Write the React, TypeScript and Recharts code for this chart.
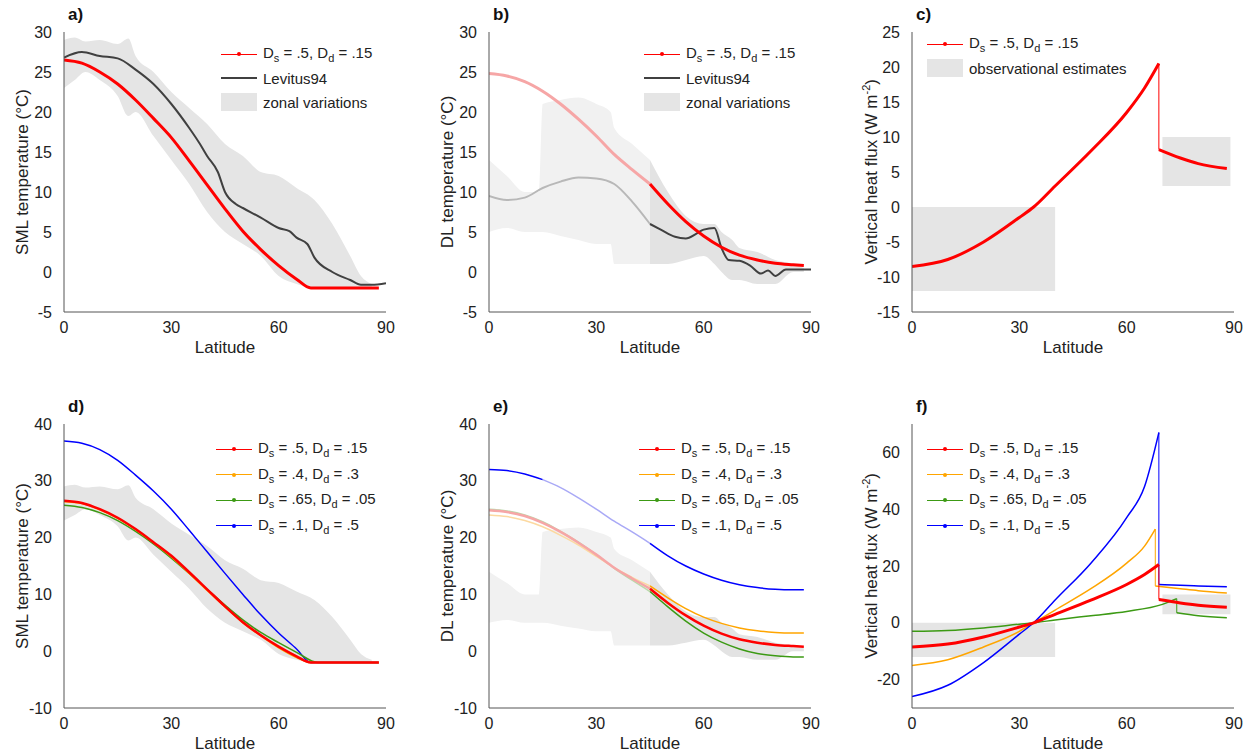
import React from "react";
import { ComposedChart, Line, Area, XAxis, YAxis, ReferenceArea } from "recharts";

const FONT = "'Liberation Sans', Arial, Helvetica, sans-serif";
const latTicks = [0, 30, 60, 90];

type P = { x: number; y: number };
const mk = (xs: number[], ys: number[]): P[] => xs.map((x, i) => ({ x, y: ys[i] }));
const band = (xs: number[], lo: number[], hi: number[]) => xs.map((x, i) => ({ x, r: [lo[i], hi[i]] }));

// ---- SML (a, d) ----
const smlLat = [0, 5, 10, 15, 20, 25, 30, 35, 40, 45, 50, 55, 60, 65, 69, 75, 80, 85, 88];
const smlRed = [26.5, 26.1, 25, 23.5, 21.5, 19.2, 16.8, 13.9, 10.9, 7.9, 5.1, 2.8, 0.8, -0.9, -2, -2, -2, -2, -2];
const smlYellow = [26.3, 26, 24.9, 23.4, 21.4, 19.1, 16.6, 13.7, 10.7, 7.8, 5, 2.7, 0.6, -1.1, -2, -2, -2, -2, -2];
const smlGreenLat = [0, 5, 10, 15, 20, 25, 30, 35, 40, 45, 50, 55, 60, 65, 71, 75, 80, 85, 88];
const smlGreen = [25.7, 25.3, 24.4, 23, 21.1, 18.9, 16.4, 13.7, 10.9, 8.1, 5.5, 3.3, 1.5, -0.2, -2, -2, -2, -2, -2];
const smlBlue = [37, 36.6, 35.5, 33.6, 31, 28.2, 25, 21.3, 17.5, 13.7, 10, 6.4, 3.2, 0.4, -2, -2, -2, -2, -2];
const levLat = [0, 5, 10, 15, 20, 25, 30, 35, 38, 40, 43, 45, 48, 50, 55, 60, 63, 65, 68, 70, 75, 80, 83, 86, 90];
const levSml = [26.8, 27.5, 27, 26.7, 25.3, 23.5, 21, 18, 16, 14.5, 12.5, 10, 8.5, 8, 6.8, 5.5, 5.1, 4.3, 3.5, 1.8, 0, -1, -1.6, -1.6, -1.4];
const smlBandLat = [0, 3, 6, 10, 15, 18, 20, 25, 30, 35, 40, 45, 50, 55, 60, 65, 70, 75, 80, 83, 86];
const smlBandLo = [23, 24, 25, 24, 22, 19.5, 20, 17, 14, 11, 7.5, 5, 3.5, 2, -0.5, -1.5, -2, -2, -2, -2, -2];
const smlBandHi = [29, 29.3, 28.8, 29, 28.5, 29.2, 27, 25, 22.5, 20.5, 18.5, 16, 14.5, 12.5, 12, 10.5, 9, 6, 2, -0.5, -1.5];

// ---- DL (b, e) ----
const dlLat1 = [0, 5, 10, 15, 20, 25, 30, 35, 40, 45];
const dlLat2 = [45, 50, 55, 60, 65, 70, 75, 80, 85, 88];
const dlRed1 = [24.8, 24.5, 23.8, 22.6, 21, 19.1, 17, 14.7, 12.8, 11];
const dlRed2 = [11, 8.5, 6.3, 4.5, 3.1, 2.1, 1.5, 1.1, 0.9, 0.8];
const dlYel1 = [24, 23.7, 23, 21.9, 20.4, 18.7, 16.7, 14.7, 13, 11.5];
const dlYel2 = [11.5, 9.4, 7.5, 6, 4.9, 4.1, 3.6, 3.3, 3.2, 3.2];
const dlGrn1 = [25, 24.7, 24, 22.8, 21.1, 19.2, 17, 14.6, 12.5, 10.5];
const dlGrn2 = [10.5, 7.8, 5.3, 3.2, 1.6, 0.4, -0.4, -0.8, -1, -1];
const dlBlueLatA = [0, 5, 10, 15];
const dlBlueA = [32, 31.8, 31.2, 30.2];
const dlBlueLatB = [15, 20, 25, 30, 35, 40, 45];
const dlBlueB = [30.2, 28.8, 27, 25, 22.9, 21, 19];
const dlBlue2 = [19, 16.8, 15, 13.6, 12.5, 11.7, 11.2, 10.9, 10.8, 10.8];
const levDlLat1 = [0, 5, 10, 15, 20, 25, 30, 35, 40, 45];
const levDl1 = [9.5, 9, 9.3, 10.5, 11.3, 11.8, 11.7, 11, 8.8, 6];
const levDlLat2 = [45, 48, 52, 55, 58, 60, 63, 65, 67, 70, 73, 76, 78, 80, 83, 86, 90];
const levDl2 = [6, 5.3, 4.4, 4.2, 4.8, 5.3, 5.5, 3, 1.5, 1.4, 0.8, -0.2, 0.2, -0.5, 0.3, 0.3, 0.3];
const dlBandLat1 = [0, 5, 10, 14, 15, 20, 25, 30, 34, 35, 40, 45];
const dlBandLo1 = [5, 5.5, 5, 5, 5, 4.5, 4, 3.5, 3.5, 1, 1, 1];
const dlBandHi1 = [14, 12, 10, 10, 21, 21.5, 21.8, 21, 20, 18, 16, 14];
const dlBandLat2 = [45, 50, 55, 60, 63, 65, 68, 70, 75, 80, 85, 88];
const dlBandLo2 = [1, 1, 1.5, 2, 1, 0, -1, -1, -1.5, -1.5, 0, 0];
const dlBandHi2 = [14, 10, 7, 6, 6, 5, 4, 3, 2.5, 1.5, 1, 0.5];

// ---- Vertical heat flux (c, f): before jump, after jump ----
const vfLatA = [0, 10, 20, 30, 34, 40, 50, 60, 65, 69];
const vfRedA = [-8.5, -7.5, -5, -1.5, 0, 3, 8, 13.5, 17, 20.5];
const vfLatB = [69, 75, 80, 88];
const vfRedB = [8.2, 7, 6.2, 5.5];
const vfYelLatA = [0, 10, 20, 30, 34, 40, 50, 60, 65, 68];
const vfYelA = [-15, -13, -8.5, -3, 0, 4.5, 12, 21, 27, 33];
const vfYelLatB = [68, 75, 80, 88];
const vfYelB = [13, 12, 11.3, 10.5];
const vfGrnLatA = [0, 10, 20, 30, 34, 40, 50, 60, 70, 74];
const vfGrnA = [-3, -2.7, -1.8, -0.5, 0, 1, 2.5, 4, 6.5, 8.5];
const vfGrnLatB = [74, 80, 88];
const vfGrnB = [3.5, 2.5, 1.8];
const vfBluLatA = [0, 10, 20, 30, 34, 40, 50, 60, 65, 69];
const vfBluA = [-26, -22, -14, -4, 0, 8, 21, 37, 48, 67];
const vfBluLatB = [69, 75, 80, 88];
const vfBluB = [13.5, 13.2, 13, 12.7];

const RED = "#ff0000", YEL = "#ffa500", GRN = "#3c9a14", BLU = "#0000ff", DARK = "#404040";
const RED_F = "#f6a6a6", YEL_F = "#fcd9a0", GRN_F = "#b9d9aa", BLU_F = "#a9a9f6", DARK_F = "#b8b8b8";

type Box = { x: number; y: number; w: number; h: number };
const L = 60, T = 25, R = 20, B = 48;

function Panel(props: { box: Box; letter: string; domain: [number, number]; ticks: number[]; ylabel: React.ReactNode; children: React.ReactNode; legend: React.ReactNode }) {
  const { box } = props;
  return (
    <div style={{ position: "absolute", left: box.x - L, top: box.y - T, width: box.w + L + R, height: box.h + T + B }}>
      <ComposedChart width={box.w + L + R} height={box.h + T + B} margin={{ top: T, right: R, left: 0, bottom: 0 }}>
        <XAxis type="number" dataKey="x" domain={[0, 90]} ticks={latTicks} allowDataOverflow height={B} stroke="#555"
          tickLine={false} tick={{ fill: "#222", fontSize: 16, fontFamily: FONT }} tickMargin={4} />
        <YAxis type="number" domain={props.domain} ticks={props.ticks} allowDataOverflow width={L} stroke="#555"
          tickLine={false} tick={{ fill: "#222", fontSize: 16, fontFamily: FONT }} tickMargin={6} />
        {props.children}
      </ComposedChart>
      <div style={{ position: "absolute", left: L, width: box.w, top: T + box.h + 26, textAlign: "center", fontFamily: FONT, fontSize: 17, color: "#222" }}>Latitude</div>
      <div style={{ position: "absolute", left: L - 51, top: T, height: box.h, width: 20, display: "flex", alignItems: "center", justifyContent: "center" }}>
        <div style={{ transform: "rotate(-90deg)", whiteSpace: "nowrap", fontFamily: FONT, fontSize: 17, color: "#222" }}>{props.ylabel}</div>
      </div>
      <div style={{ position: "absolute", left: L + 4, top: T - 27, fontFamily: FONT, fontWeight: "bold", fontSize: 17, color: "#111" }}>{props.letter}</div>
      {props.legend}
    </div>
  );
}

const lbl = (s: string, d: string) => (
  <span>D<sub style={{ fontSize: 11 }}>s</sub> = {s}, D<sub style={{ fontSize: 11 }}>d</sub> = {d}</span>
);

function LegendBox(props: { left: number; top: number; gap: number; items: { kind: "line" | "dot" | "patch"; color: string; text: React.ReactNode; w?: number }[] }) {
  return (
    <div style={{ position: "absolute", left: props.left, top: props.top, fontFamily: FONT, fontSize: 15, color: "#222" }}>
      {props.items.map((it, i) => (
        <div key={i} style={{ position: "absolute", top: i * props.gap, left: 0, whiteSpace: "nowrap", display: "flex", alignItems: "center", height: 20 }}>
          <div style={{ width: 36, height: 20, position: "relative", marginRight: 6 }}>
            {it.kind === "patch" ? (
              <div style={{ position: "absolute", top: 1, left: 0, width: 36, height: 18, background: "#e5e5e5" }} />
            ) : (
              <div style={{ position: "absolute", top: 10 - (it.w ?? 1) / 2, left: 0, width: 36, height: it.w ?? 1, background: it.color }} />
            )}
            {it.kind === "dot" && <div style={{ position: "absolute", top: 8, left: 16, width: 4, height: 4, borderRadius: 2, background: it.color }} />}
          </div>
          {it.text}
        </div>
      ))}
    </div>
  );
}

const line = (data: P[], color: string, w: number, key: string) => (
  <Line key={key} data={data} dataKey="y" type="monotone" stroke={color} strokeWidth={w} dot={false} isAnimationActive={false} />
);
const lineL = (data: P[], color: string, w: number, key: string) => (
  <Line key={key} data={data} dataKey="y" type="linear" stroke={color} strokeWidth={w} dot={false} isAnimationActive={false} />
);
const bandArea = (data: any[], fill: string, key: string) => (
  <Area key={key} data={data} dataKey="r" type="monotone" stroke="none" fill={fill} fillOpacity={1} isAnimationActive={false} />
);
const jumpSeries = (la: number[], ya: number[], lb: number[], yb: number[], color: string, w: number, k: string) => [
  line(mk(la, ya), color, w, k + "a"),
  lineL([{ x: la[la.length - 1], y: ya[ya.length - 1] }, { x: lb[0], y: yb[0] }], color, 1, k + "j"),
  line(mk(lb, yb), color, w, k + "b"),
];

const smlBand = band(smlBandLat, smlBandLo, smlBandHi);
const dlBand1 = band(dlBandLat1, dlBandLo1, dlBandHi1);
const dlBand2 = band(dlBandLat2, dlBandLo2, dlBandHi2);

const TOPY = 32, BOTY = 424;
const boxA = { x: 64, y: TOPY, w: 322, h: 280 };
const boxB = { x: 489, y: TOPY, w: 322, h: 280 };
const boxC = { x: 912, y: TOPY, w: 322, h: 280 };
const boxD = { x: 64, y: BOTY, w: 322, h: 284 };
const boxE = { x: 489, y: BOTY, w: 322, h: 284 };
const boxF = { x: 912, y: BOTY, w: 322, h: 284 };

const fourLegend = (left: number) => (
  <LegendBox left={left} top={T + 15} gap={25.5} items={[
    { kind: "dot", color: RED, text: lbl(".5", ".15") },
    { kind: "dot", color: YEL, text: lbl(".4", ".3") },
    { kind: "dot", color: GRN, text: lbl(".65", ".05") },
    { kind: "dot", color: BLU, text: lbl(".1", ".5") },
  ]} />
);

const fluxLabel = <span>Vertical heat flux (W m<sup style={{ fontSize: 11 }}>-2</sup>)</span>;

export default function App() {
  return (
    <div style={{ position: "absolute", left: 0, top: 0, width: 1252, height: 756, background: "#fff", overflow: "hidden" }}>
      <Panel box={boxA} letter="a)" domain={[-5, 30]} ticks={[-5, 0, 5, 10, 15, 20, 25, 30]} ylabel="SML temperature (°C)"
        legend={<LegendBox left={L + 157} top={T + 12} gap={24} items={[
          { kind: "dot", color: RED, text: lbl(".5", ".15") },
          { kind: "line", color: DARK, w: 2.5, text: "Levitus94" },
          { kind: "patch", color: "", text: "zonal variations" },
        ]} />}>
        {bandArea(smlBand, "#e5e5e5", "b")}
        {line(mk(levLat, levSml), DARK, 2, "l")}
        {line(mk(smlLat, smlRed), RED, 3, "r")}
      </Panel>

      <Panel box={boxB} letter="b)" domain={[-5, 30]} ticks={[-5, 0, 5, 10, 15, 20, 25, 30]} ylabel="DL temperature (°C)"
        legend={<LegendBox left={L + 155} top={T + 12} gap={24} items={[
          { kind: "dot", color: RED, text: lbl(".5", ".15") },
          { kind: "line", color: DARK, w: 2.5, text: "Levitus94" },
          { kind: "patch", color: "", text: "zonal variations" },
        ]} />}>
        {bandArea(dlBand1, "#f1f1f1", "b1")}
        {bandArea(dlBand2, "#e3e3e3", "b2")}
        {line(mk(levDlLat1, levDl1), DARK_F, 2, "l1")}
        {line(mk(levDlLat2, levDl2), DARK, 2, "l2")}
        {line(mk(dlLat1, dlRed1), RED_F, 3, "r1")}
        {line(mk(dlLat2, dlRed2), RED, 3, "r2")}
      </Panel>

      <Panel box={boxC} letter="c)" domain={[-15, 25]} ticks={[-15, -10, -5, 0, 5, 10, 15, 20, 25]} ylabel={fluxLabel}
        legend={<LegendBox left={L + 15} top={T + 2} gap={24} items={[
          { kind: "dot", color: RED, text: lbl(".5", ".15") },
          { kind: "patch", color: "", text: "observational estimates" },
        ]} />}>
        <ReferenceArea x1={0} x2={40} y1={-12} y2={0} fill="#e5e5e5" fillOpacity={1} stroke="none" />
        <ReferenceArea x1={70} x2={89} y1={3} y2={10} fill="#e5e5e5" fillOpacity={1} stroke="none" />
        {jumpSeries(vfLatA, vfRedA, vfLatB, vfRedB, RED, 3, "r")}
      </Panel>

      <Panel box={boxD} letter="d)" domain={[-10, 40]} ticks={[-10, 0, 10, 20, 30, 40]} ylabel="SML temperature (°C)" legend={fourLegend(L + 152)}>
        {bandArea(smlBand, "#e5e5e5", "b")}
        {line(mk(smlLat, smlBlue), BLU, 1.5, "bl")}
        {line(mk(smlGreenLat, smlGreen), GRN, 1.5, "g")}
        {line(mk(smlLat, smlYellow), YEL, 1.5, "y")}
        {line(mk(smlLat, smlRed), RED, 2.5, "r")}
      </Panel>

      <Panel box={boxE} letter="e)" domain={[-10, 40]} ticks={[-10, 0, 10, 20, 30, 40]} ylabel="DL temperature (°C)" legend={fourLegend(L + 150)}>
        {bandArea(dlBand1, "#f1f1f1", "b1")}
        {bandArea(dlBand2, "#e3e3e3", "b2")}
        {line(mk(dlBlueLatA, dlBlueA), BLU, 1.5, "blA")}
        {line(mk(dlBlueLatB, dlBlueB), BLU_F, 1.5, "blB")}
        {line(mk(dlLat2, dlBlue2), BLU, 1.5, "bl2")}
        {line(mk(dlLat1, dlGrn1), GRN_F, 1.5, "g1")}
        {line(mk(dlLat2, dlGrn2), GRN, 1.5, "g2")}
        {line(mk(dlLat1, dlYel1), YEL_F, 1.5, "y1")}
        {line(mk(dlLat2, dlYel2), YEL, 1.5, "y2")}
        {line(mk(dlLat1, dlRed1), RED_F, 2.5, "r1")}
        {line(mk(dlLat2, dlRed2), RED, 2.5, "r2")}
      </Panel>

      <Panel box={boxF} letter="f)" domain={[-30, 70]} ticks={[-20, 0, 20, 40, 60]} ylabel={fluxLabel} legend={fourLegend(L + 15)}>
        <ReferenceArea x1={0} x2={40} y1={-12} y2={0} fill="#e5e5e5" fillOpacity={1} stroke="none" />
        <ReferenceArea x1={70} x2={89} y1={3} y2={10} fill="#e5e5e5" fillOpacity={1} stroke="none" />
        {jumpSeries(vfGrnLatA, vfGrnA, vfGrnLatB, vfGrnB, GRN, 1.5, "g")}
        {jumpSeries(vfYelLatA, vfYelA, vfYelLatB, vfYelB, YEL, 1.5, "y")}
        {jumpSeries(vfBluLatA, vfBluA, vfBluLatB, vfBluB, BLU, 1.5, "b")}
        {jumpSeries(vfLatA, vfRedA, vfLatB, vfRedB, RED, 3, "r")}
      </Panel>
    </div>
  );
}
